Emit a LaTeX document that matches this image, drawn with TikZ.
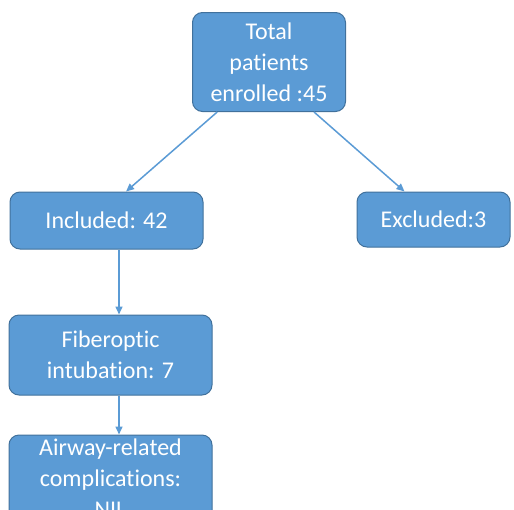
\documentclass[tikz,border=0pt]{standalone}
\usepackage{fontspec}
\setmainfont[Ligatures=NoCommon]{Carlito}
\usetikzlibrary{arrows.meta}
\definecolor{boxblue}{RGB}{91,155,213}
\definecolor{edgeblue}{RGB}{65,113,156}

\begin{document}
\begin{tikzpicture}[x=0.5pt,y=-0.5pt,
  flowbox/.style={draw=edgeblue,line width=0.5pt,fill=boxblue,rounded corners=5pt,
    text=white,align=center,inner sep=0pt,font=\fontsize{12}{15.5}\selectfont},
  flowarrow/.style={draw=boxblue,line width=0.75pt,-{Triangle[length=4pt,width=3.5pt]}}]
  \useasboundingbox (0,0) rectangle (514,509);
  \node[flowbox,minimum width=76.5pt,minimum height=49.5pt] (total) at (269,62) {Total\\patients\\enrolled :45};
  \node[flowbox,minimum width=96.5pt,minimum height=28.5pt] (incl) at (106.5,220.5) {Included: 42};
  \node[flowbox,minimum width=76.5pt,minimum height=27.5pt] (excl) at (433.5,219.5) {Excluded:3};
  \node[flowbox,minimum width=101.5pt,minimum height=40pt] (fiber) at (110.5,355) {Fiberoptic\\intubation: 7};
  \node[flowbox,minimum width=101.5pt,minimum height=43pt] (airway) at (110.5,478) {Airway-related\\complications:\\NIL};
  \coordinate (down) at (119,0);
  \draw[flowarrow] (total.-136) -- (incl.56);
  \draw[flowarrow] (total.-48) -- (excl.136);
  \draw[flowarrow] (incl.south -| down) -- (fiber.north -| down);
  \draw[flowarrow] (fiber.south -| down) -- (airway.north -| down);
\end{tikzpicture}
\end{document}
